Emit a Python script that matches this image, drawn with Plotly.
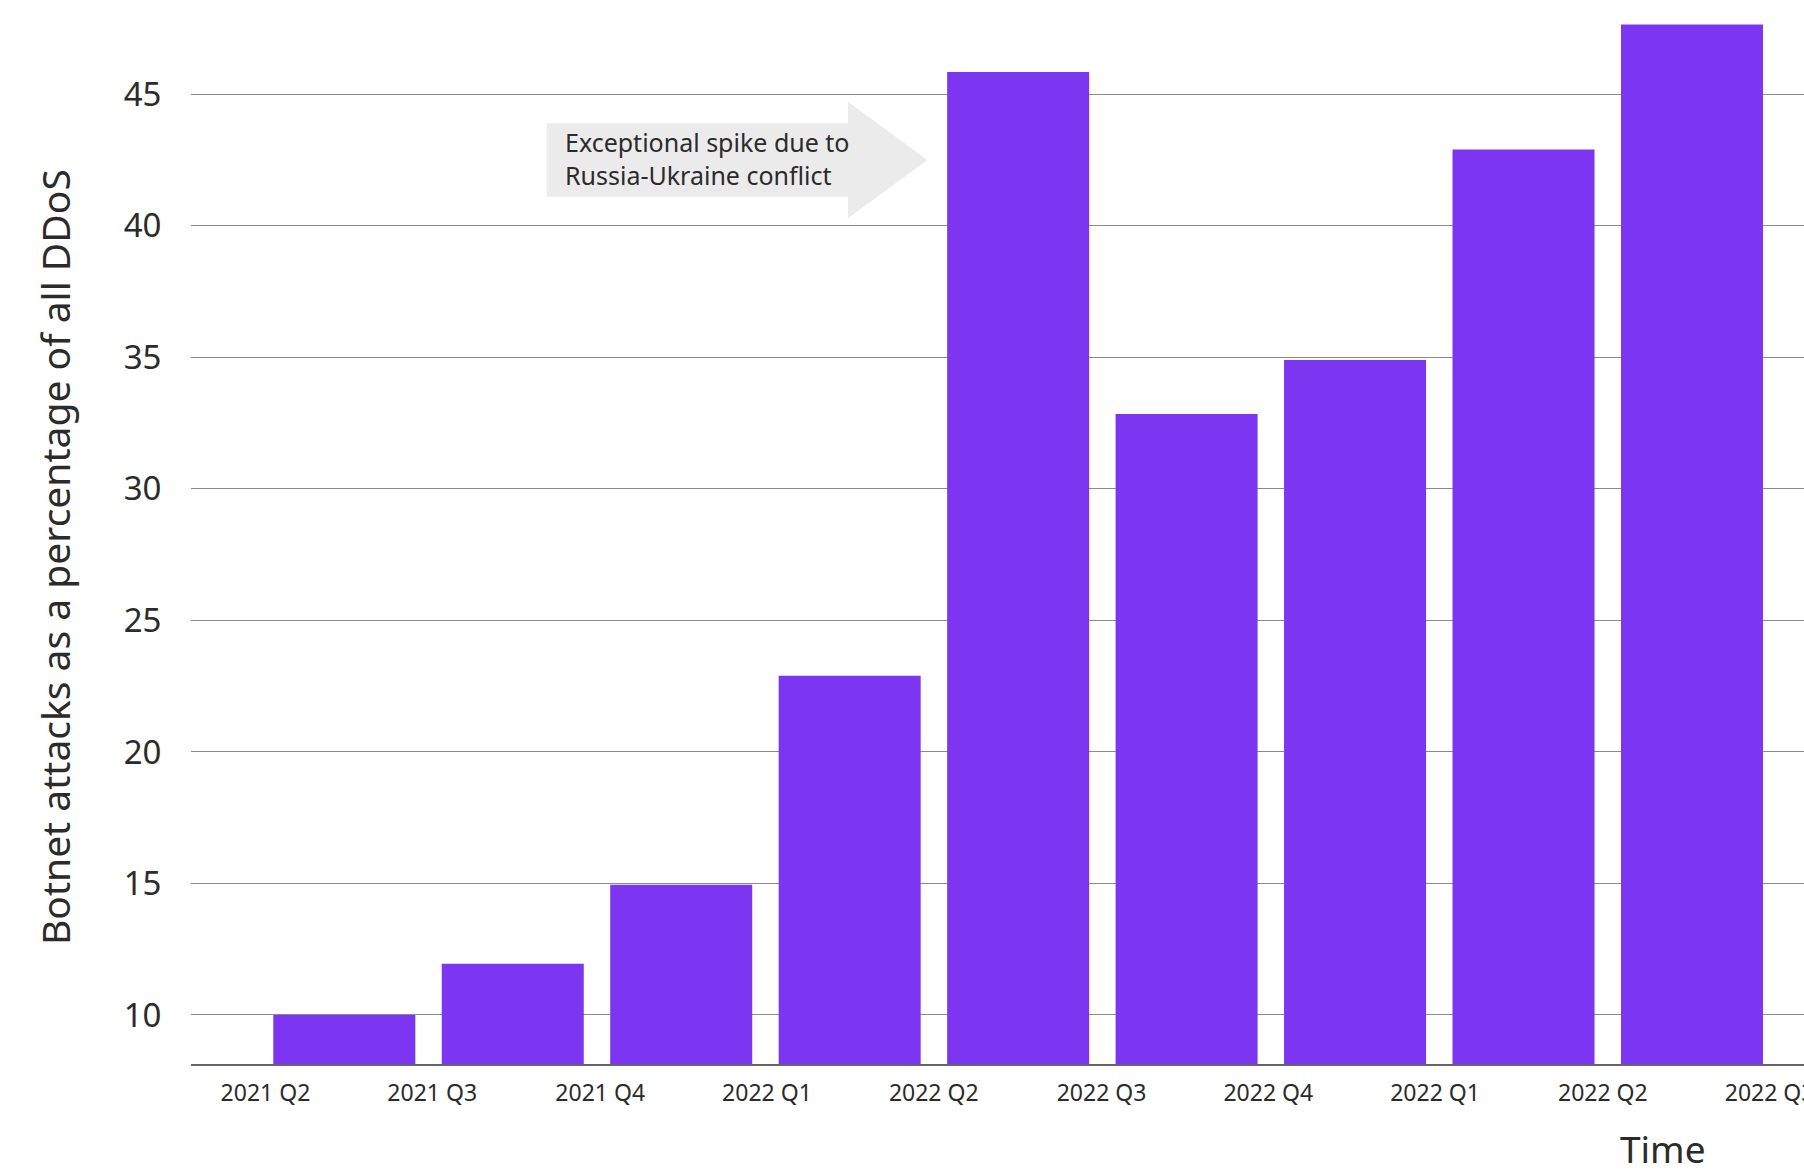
import plotly.graph_objects as go

# ---- data ----
bar_positions = [0, 1, 2, 3, 4, 5, 6, 7, 8]
bar_values = [10.0, 11.95, 14.95, 22.9, 45.85, 32.85, 34.9, 42.9, 47.65]
tick_positions = [-0.468, 0.522, 1.519, 2.509, 3.499, 4.495, 5.485, 6.475,
                  7.471, 8.461]
tick_labels = ["2021 Q2", "2021 Q3", "2021 Q4", "2022 Q1", "2022 Q2",
               "2022 Q3", "2022 Q4", "2022 Q1", "2022 Q2", "2022 Q3"]
y_ticks = [10, 15, 20, 25, 30, 35, 40, 45]
note_text = "Exceptional spike due to<br>Russia-Ukraine conflict"
y_title = "Botnet attacks as a percentage of all DDoS"
x_title = "Time"

FONT = "Noto Sans"
TXT = "#2b2b2b"
PURPLE = "#7C35F1"

W, H = 1804, 1171
ML, MB = 191, 107
plot_w = W - ML
plot_h = H - MB


def px_x(p):
    return (p - ML) / plot_w


def px_y(p):
    return (plot_h - p) / plot_h


fig = go.Figure()
fig.add_trace(go.Bar(
    x=bar_positions, y=bar_values, width=0.843,
    marker=dict(color=PURPLE, line=dict(width=0)),
    hoverinfo="skip", showlegend=False,
))

# arrow-shaped callout (in data coordinates)
arrow_path = ("M 1.202 43.90 L 2.990 43.90 L 2.990 44.72 L 3.461 42.50 "
              "L 2.990 40.286 L 2.990 41.107 L 1.202 41.107 Z")
fig.add_shape(type="path", path=arrow_path, xref="x", yref="y",
              fillcolor="#ebebeb", line=dict(width=0), layer="above")

fig.add_annotation(x=1.297, y=42.55, xref="x", yref="y",
                   text=note_text, showarrow=False, xanchor="left",
                   yanchor="middle", align="left",
                   font=dict(family=FONT, size=25, color=TXT))

fig.add_annotation(x=px_x(1663), y=px_y(1148), xref="paper", yref="paper",
                   text=x_title, showarrow=False, xanchor="center",
                   yanchor="middle",
                   font=dict(family=FONT, size=37, color=TXT))

fig.add_annotation(x=px_x(54), y=px_y(557), xref="paper", yref="paper",
                   text=y_title, showarrow=False, textangle=-90,
                   xanchor="center", yanchor="middle",
                   font=dict(family=FONT, size=39, color=TXT))

fig.update_layout(
    width=W, height=H,
    margin=dict(l=ML, r=0, t=0, b=MB, pad=0, autoexpand=False),
    paper_bgcolor="white", plot_bgcolor="white",
    bargap=0.157,
    xaxis=dict(
        range=[-0.91, 8.665], tickmode="array",
        tickvals=tick_positions, ticktext=tick_labels,
        showgrid=False, zeroline=False, automargin=False,
        showline=True, linecolor="#666666", linewidth=1.5,
        ticks="outside", ticklen=8, tickcolor="rgba(0,0,0,0)",
        ticklabeloverflow="allow",
        tickfont=dict(family=FONT, size=23, color=TXT),
    ),
    yaxis=dict(
        range=[8.137, 48.585], tickmode="array", tickvals=y_ticks,
        showgrid=True, gridcolor="#8a8a8a", gridwidth=1.3,
        zeroline=False, showline=False, automargin=False,
        ticks="outside", ticklen=22, tickcolor="rgba(0,0,0,0)",
        tickfont=dict(family=FONT, size=33, color=TXT),
    ),
)

fig.write_html("out.html")
